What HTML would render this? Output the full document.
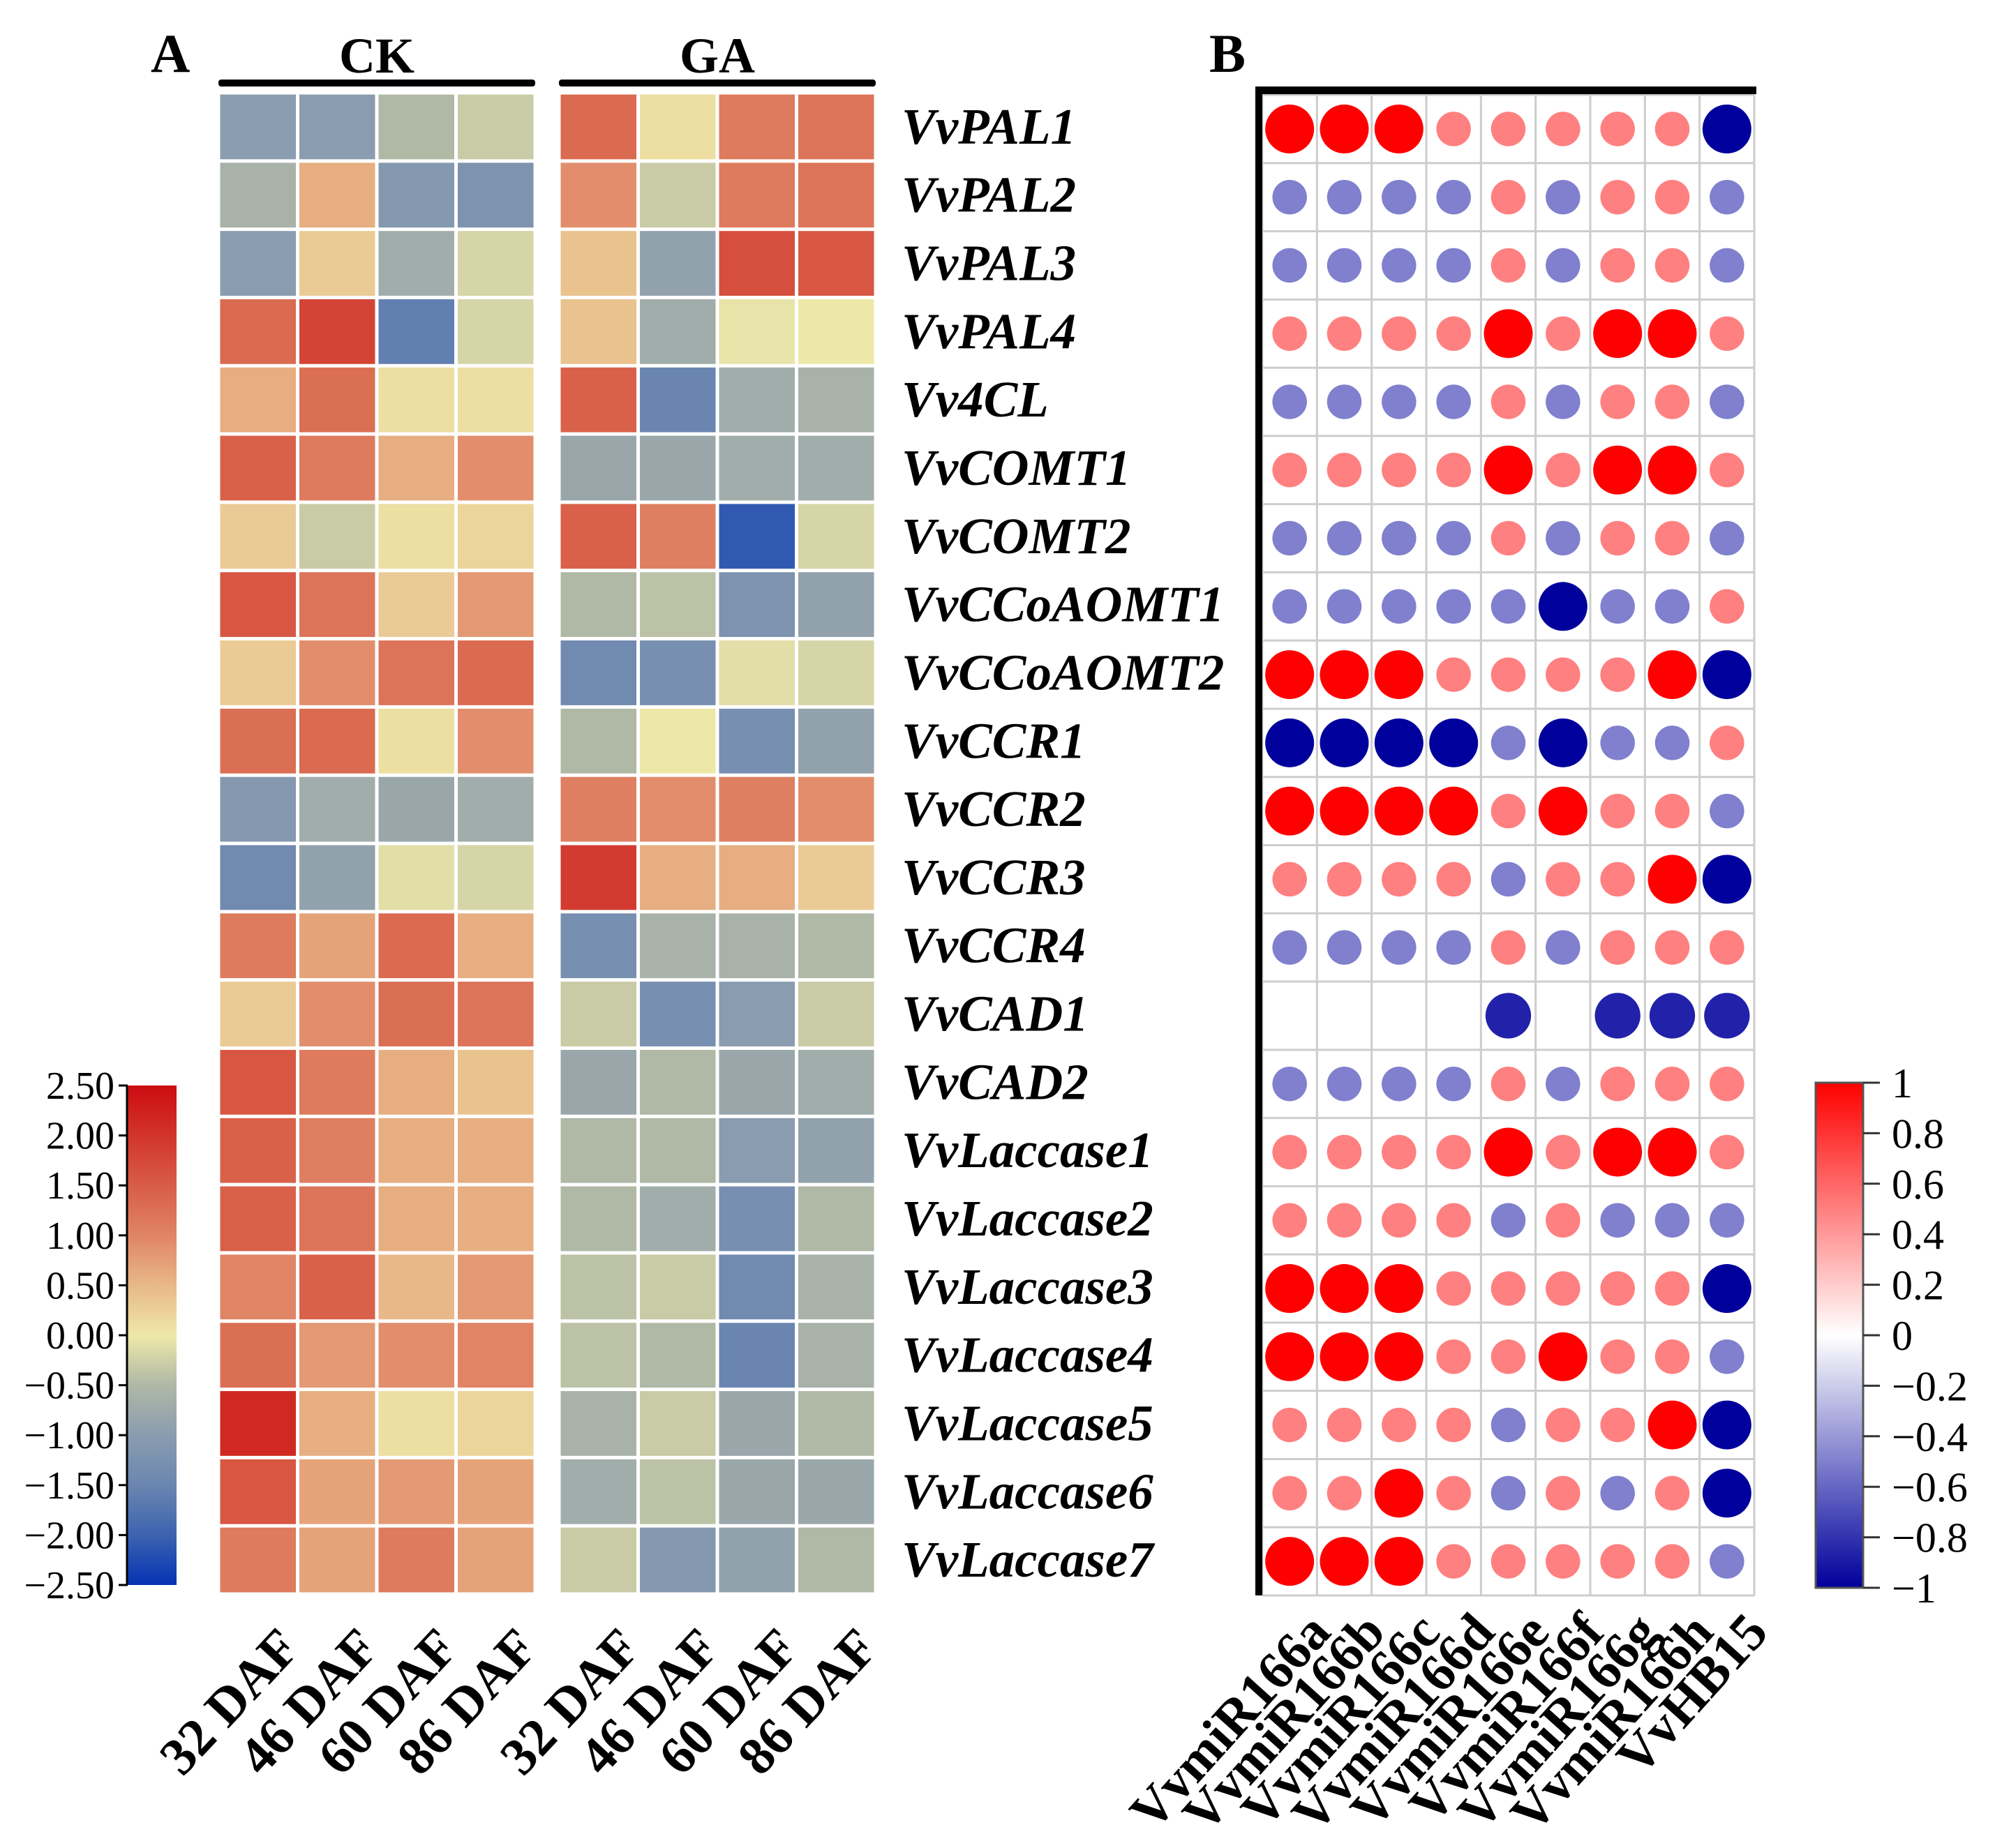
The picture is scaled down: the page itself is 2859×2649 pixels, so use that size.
<!DOCTYPE html>
<html><head><meta charset="utf-8"><style>
html,body{margin:0;padding:0;background:#fff}
svg{display:block}
text{font-family:"Liberation Serif",serif}
</style></head><body>
<svg id="fig" width="2859" height="2649" viewBox="0 0 2859 2649" xmlns="http://www.w3.org/2000/svg">
<defs>
<linearGradient id="gA" x1="0" y1="1" x2="0" y2="0">
<stop offset="0" stop-color="#0433b3"/><stop offset="0.1" stop-color="#3d63b0"/><stop offset="0.2" stop-color="#6a86b0"/><stop offset="0.3" stop-color="#8a9caf"/><stop offset="0.4" stop-color="#b0b8a6"/><stop offset="0.5" stop-color="#eee8a8"/><stop offset="0.6" stop-color="#e8b888"/><stop offset="0.7" stop-color="#e08466"/><stop offset="0.8" stop-color="#d85c48"/><stop offset="1" stop-color="#cc0c10"/>
</linearGradient>
<linearGradient id="gB" x1="0" y1="1" x2="0" y2="0">
<stop offset="0" stop-color="#00009c"/><stop offset="0.5" stop-color="#ffffff"/><stop offset="1" stop-color="#ff0000"/>
</linearGradient>
</defs>
<g id="panelA"></g>
<g id="panelB"></g>
</svg>
<script>
const genes = ["VvPAL1","VvPAL2","VvPAL3","VvPAL4","Vv4CL","VvCOMT1","VvCOMT2","VvCCoAOMT1","VvCCoAOMT2","VvCCR1","VvCCR2","VvCCR3","VvCCR4","VvCAD1","VvCAD2","VvLaccase1","VvLaccase2","VvLaccase3","VvLaccase4","VvLaccase5","VvLaccase6","VvLaccase7"];
const stages = ["32 DAF","46 DAF","60 DAF","86 DAF"];
const groups = ["CK","GA"];
const ckValues = [
[-1.0,-1.0,-0.5,-0.3],[-0.6,0.6,-1.1,-1.2],[-1.0,0.3,-0.7,-0.2],[1.5,1.9,-1.6,-0.2],[0.6,1.4,0.1,0.1],
[1.6,1.2,0.6,0.9],[0.3,-0.3,0.1,0.2],[1.7,1.3,0.3,0.8],[0.3,0.9,1.3,1.5],[1.4,1.5,0.1,0.9],
[-1.1,-0.7,-0.8,-0.7],[-1.4,-0.9,-0.1,-0.2],[1.2,0.7,1.5,0.6],[0.3,0.9,1.4,1.3],[1.7,1.2,0.6,0.4],
[1.6,1.1,0.6,0.6],[1.6,1.3,0.6,0.6],[1.0,1.6,0.5,0.8],[1.4,0.8,0.9,1.0],[2.2,0.6,0.1,0.2],
[1.7,0.7,0.8,0.7],[1.2,0.7,1.2,0.7]];
const gaValues = [
[1.5,0.1,1.2,1.3],[0.9,-0.3,1.2,1.3],[0.4,-0.9,1.8,1.7],[0.4,-0.7,-0.05,0.0],[1.6,-1.5,-0.7,-0.6],
[-0.8,-0.8,-0.7,-0.7],[1.6,1.1,-2.1,-0.2],[-0.5,-0.4,-1.2,-0.9],[-1.4,-1.3,-0.1,-0.2],[-0.5,0.0,-1.3,-0.9],
[1.1,0.9,1.1,0.9],[2.0,0.6,0.6,0.3],[-1.3,-0.6,-0.6,-0.5],[-0.3,-1.3,-1.0,-0.3],[-0.8,-0.5,-0.8,-0.7],
[-0.5,-0.5,-1.0,-0.9],[-0.5,-0.7,-1.3,-0.5],[-0.4,-0.3,-1.4,-0.6],[-0.4,-0.5,-1.5,-0.6],[-0.6,-0.3,-0.8,-0.5],
[-0.7,-0.4,-0.8,-0.8],[-0.3,-1.1,-0.9,-0.5]];
const colorTicksA = ["2.50","2.00","1.50","1.00","0.50","0.00","\u22120.50","\u22121.00","\u22121.50","\u22122.00","\u22122.50"];
const mirnas = ["VvmiR166a","VvmiR166b","VvmiR166c","VvmiR166d","VvmiR166e","VvmiR166f","VvmiR166g","VvmiR166h","VvHB15"];
const A=0.5,B=-0.5,N=null;
const corrValues = [
[1,1,1,A,A,A,A,A,-1],[B,B,B,B,A,B,A,A,B],[B,B,B,B,A,B,A,A,B],[A,A,A,A,1,A,1,1,A],
[B,B,B,B,A,B,A,A,B],[A,A,A,A,1,A,1,1,A],[B,B,B,B,A,B,A,A,B],[B,B,B,B,B,-1,B,B,A],
[1,1,1,A,A,A,A,1,-1],[-1,-1,-1,-1,B,-1,B,B,A],[1,1,1,1,A,1,A,A,B],[A,A,A,A,B,A,A,1,-1],
[B,B,B,B,A,B,A,A,A],[N,N,N,N,-0.87,N,-0.87,-0.87,-0.87],[B,B,B,B,A,B,A,A,A],[A,A,A,A,1,A,1,1,A],
[A,A,A,A,B,A,B,B,B],[1,1,1,A,A,A,A,A,-1],[1,1,1,A,A,1,A,A,B],[A,A,A,A,B,A,A,1,-1],
[A,A,1,A,B,A,B,A,-1],[1,1,1,A,A,A,A,A,B]];
const colorTicksB = ["1","0.8","0.6","0.4","0.2","0","\u22120.2","\u22120.4","\u22120.6","\u22120.8","\u22121"];

const NS="http://www.w3.org/2000/svg";
function mk(parent,tag,attrs,txt){const e=document.createElementNS(NS,tag);for(const k in attrs)e.setAttribute(k,attrs[k]);if(txt!==undefined)e.textContent=txt;parent.appendChild(e);return e;}
function hex(c){return [parseInt(c.slice(1,3),16),parseInt(c.slice(3,5),16),parseInt(c.slice(5,7),16)];}
function interp(stops,v){for(let i=0;i<stops.length-1;i++){const[a,ca]=stops[i],[b,cb]=stops[i+1];if(v<=b||i==stops.length-2){let t=(v-a)/(b-a);t=Math.max(0,Math.min(1,t));const x=hex(ca),y=hex(cb);return "rgb("+x.map((q,j)=>Math.round(q+(y[j]-q)*t)).join(",")+")";}}}
const stopsA=[[-2.5,"#0433b3"],[-2,"#3d63b0"],[-1.5,"#6a86b0"],[-1,"#8a9caf"],[-0.5,"#b0b8a6"],[0,"#eee8a8"],[0.5,"#e8b888"],[1,"#e08466"],[1.5,"#da6a50"],[2.5,"#cc0c10"]];
const stopsB=[[-1,"#00009c"],[0,"#ffffff"],[1,"#ff0000"]];

// ---- Panel A ----
const pA=document.getElementById("panelA");
const rowTop=133,rowBot=2285,nR=genes.length,rowH=(rowBot-rowTop)/nR;
const groupX=[313,801],groupW=454,colW=groupW/4;
const yRow=i=>rowTop+i*rowH;
const xCol=(g,j)=>groupX[g]+j*colW;
const letA=mk(pA,"text",{x:216,y:103,"font-size":78,"font-weight":"bold"},"A");


[ckValues,gaValues].forEach((vals,g)=>{
  const t=mk(pA,"text",{x:groupX[g]+groupW/2,y:104,"font-size":72,"font-weight":"bold","text-anchor":"middle"},groups[g]);
  
  
  const bar=mk(pA,"rect",{x:groupX[g],y:114,width:groupW,height:10,rx:4,fill:"#000"});
  
  
  vals.forEach((row,i)=>row.forEach((v,j)=>{
    const r=mk(pA,"rect",{x:xCol(g,j)+2.5,y:yRow(i)+2.5,width:colW-5,height:rowH-5,fill:interp(stopsA,v)});
    
    
  }));
  stages.forEach((s,j)=>{
    const cx=xCol(g,j)+colW/2+24,cy=2328;
    const t2=mk(pA,"text",{x:cx,y:cy,"font-size":76,"font-weight":"bold","text-anchor":"end","dominant-baseline":"hanging",transform:`rotate(-47 ${cx} ${cy})`},s);
    
    
  });
});
genes.forEach((gname,i)=>{
  const t=mk(pA,"text",{x:1292,y:yRow(i)+rowH/2+24,"font-size":73,"font-weight":"bold","font-style":"italic"},gname);
  
  
});
// colorbar A
const cbA={x:183,y0:1556,y1:2272,w:70};
const cbr=mk(pA,"rect",{x:cbA.x,y:cbA.y0,width:cbA.w,height:cbA.y1-cbA.y0,fill:"url(#gA)"});


mk(pA,"line",{x1:cbA.x-1,y1:cbA.y0,x2:cbA.x-1,y2:cbA.y1,stroke:"#000","stroke-width":3});
colorTicksA.forEach((lab,k)=>{
  const y=cbA.y0+k*(cbA.y1-cbA.y0)/(colorTicksA.length-1);
  mk(pA,"line",{x1:cbA.x-13,y1:y,x2:cbA.x,y2:y,stroke:"#000","stroke-width":3});
  const t=mk(pA,"text",{x:cbA.x-19,y:y+19,"font-size":56,"text-anchor":"end"},lab);
  
  
});

// ---- Panel B ----
const pB=document.getElementById("panelB");
const gx0=1809,gx1=2514,gy0=136,gy1=2287;
const cW=(gx1-gx0)/mirnas.length,cH=(gy1-gy0)/nR;
const xB=j=>gx0+j*cW, yB=i=>gy0+i*cH;
const letB=mk(pB,"text",{x:1733,y:103,"font-size":78,"font-weight":"bold"},"B");


for(let j=0;j<=mirnas.length;j++)mk(pB,"line",{x1:xB(j),y1:gy0,x2:xB(j),y2:gy1,stroke:"#cdcdcd","stroke-width":3});
for(let i=0;i<=nR;i++)mk(pB,"line",{x1:gx0,y1:yB(i),x2:gx1,y2:yB(i),stroke:"#cdcdcd","stroke-width":3});
const axL=mk(pB,"rect",{x:1799,y:124,width:10,height:gy1-124,fill:"#000"});


const axT=mk(pB,"rect",{x:1799,y:124,width:gx1-1799+3,height:11,fill:"#000"});


corrValues.forEach((row,i)=>row.forEach((v,j)=>{
  if(v===null)return;
  const c=mk(pB,"circle",{cx:xB(j)+cW/2,cy:yB(i)+cH/2,r:35*Math.sqrt(Math.abs(v)),fill:interp(stopsB,v)});
  
  
}));
mirnas.forEach((m,j)=>{
  const cx=xB(j)+cW/2+22,cy=2306;
  const t=mk(pB,"text",{x:cx,y:cy,"font-size":76,"font-weight":"bold","text-anchor":"end","dominant-baseline":"hanging",transform:`rotate(-48 ${cx} ${cy})`},m);
  
  
});
const cbB={x:2602,y0:1552,y1:2276,w:68};
const cbb=mk(pB,"rect",{x:cbB.x,y:cbB.y0,width:cbB.w,height:cbB.y1-cbB.y0,fill:"url(#gB)",stroke:"#555","stroke-width":3});


colorTicksB.forEach((lab,k)=>{
  const y=cbB.y0+k*(cbB.y1-cbB.y0)/(colorTicksB.length-1);
  mk(pB,"line",{x1:cbB.x+cbB.w,y1:y,x2:cbB.x+cbB.w+24,y2:y,stroke:"#333","stroke-width":3});
  const t=mk(pB,"text",{x:2711,y:y+21,"font-size":60},lab);
  
  
});
</script>
</body></html>
